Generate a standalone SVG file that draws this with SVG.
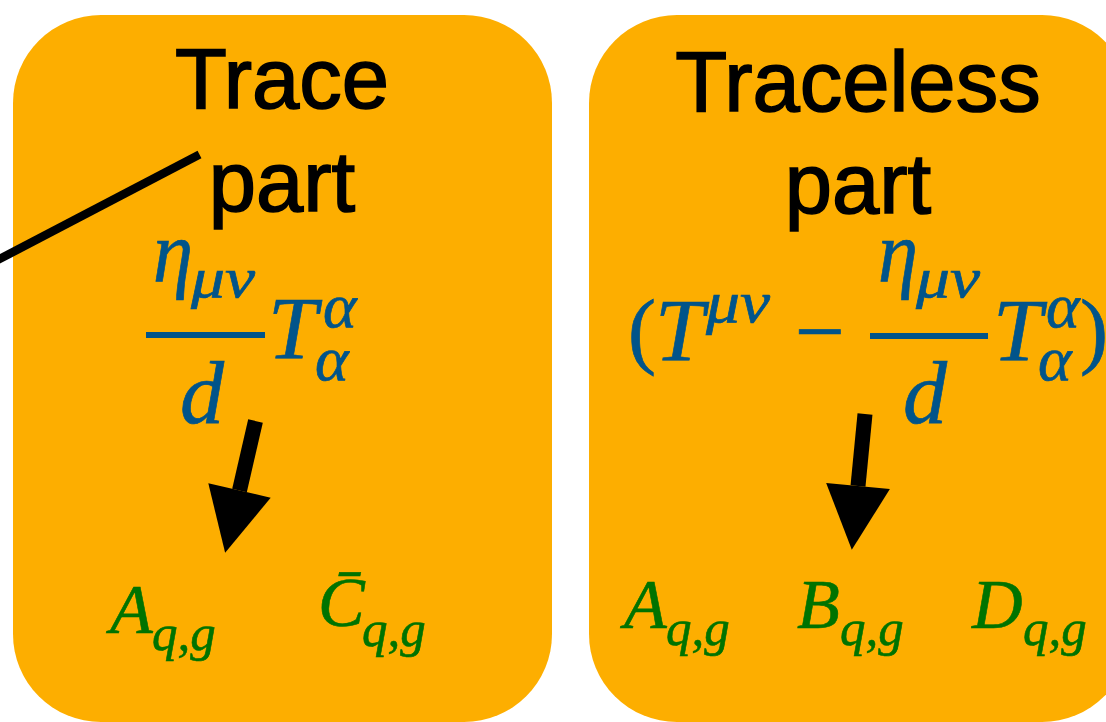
<svg xmlns="http://www.w3.org/2000/svg" width="1106" height="722" viewBox="0 0 1106 722">
<style>
.box{fill:#FDAE00}
.title{font-family:"Liberation Sans","Helvetica",Arial,sans-serif;font-size:85px;fill:#000;stroke:#000;stroke-width:1.6px;text-anchor:middle}
.m{font-family:"Liberation Serif","Times New Roman",serif;font-style:italic;fill:#01548A;stroke:#01548A;stroke-width:0.7px}
.mu{font-family:"Liberation Serif","Times New Roman",serif;font-style:normal;fill:#01548A;stroke:#01548A;stroke-width:0.7px}
.g{font-family:"Liberation Serif","Times New Roman",serif;font-style:italic;fill:#007300;stroke:#007300;stroke-width:0.6px}
.bar{fill:#01548A}
.conn{stroke:#000;fill:none}
</style>
<defs>
<marker id="head" markerUnits="userSpaceOnUse" markerWidth="64" markerHeight="64" refX="0" refY="32" orient="auto" overflow="visible">
<path d="M0,0 L64,32 L0,64 Z" fill="#000"/>
</marker>
</defs>
<rect width="1106" height="722" fill="#fff"/>
<g id="trace-part">
<rect class="box" x="13" y="15" width="539" height="707" rx="88" ry="88"/>
<text class="title" x="282" y="108">Trace</text>
<text class="title" x="282" y="211">part</text>
<text class="m" x="153" y="281" font-size="86" textLength="40" lengthAdjust="spacingAndGlyphs">η</text>
<text class="m" x="191" y="297" font-size="58" textLength="64" lengthAdjust="spacingAndGlyphs">μν</text>
<rect class="bar" x="146" y="332" width="119" height="6"/>
<text class="m" x="180" y="423" font-size="88">d</text>
<text class="m" x="268" y="358" font-size="88">T</text>
<text class="m" x="323" y="327" font-size="64">α</text>
<text class="m" x="315" y="380" font-size="64">α</text>
<text class="g" x="110" y="633" font-size="70">A</text>
<text class="g" x="152" y="650" font-size="51">q,g</text>
<text class="g" x="318" y="626" font-size="70">C̄</text>
<text class="g" x="362" y="646" font-size="51">q,g</text>
</g>
<g id="traceless-part">
<rect class="box" x="589" y="15" width="541" height="707" rx="88" ry="88"/>
<text class="title" x="858" y="111">Traceless</text>
<text class="title" x="858" y="213">part</text>
<text class="mu" x="628" y="358" font-size="84">(</text>
<text class="m" x="655" y="360" font-size="88">T</text>
<text class="m" x="706" y="322" font-size="60" textLength="64" lengthAdjust="spacingAndGlyphs">μν</text>
<text class="mu" x="795" y="361" font-size="88" stroke-width="2.5" textLength="50" lengthAdjust="spacingAndGlyphs">−</text>
<rect class="bar" x="870" y="333" width="118" height="6"/>
<text class="m" x="878" y="281" font-size="86" textLength="40" lengthAdjust="spacingAndGlyphs">η</text>
<text class="m" x="916" y="297" font-size="58" textLength="64" lengthAdjust="spacingAndGlyphs">μν</text>
<text class="m" x="903" y="423" font-size="88">d</text>
<text class="m" x="993" y="360" font-size="88">T</text>
<text class="m" x="1046" y="327" font-size="64">α</text>
<text class="m" x="1038" y="380" font-size="64">α</text>
<text class="mu" x="1080" y="358" font-size="84">)</text>
<text class="g" x="624" y="628" font-size="70">A</text>
<text class="g" x="666" y="645" font-size="51">q,g</text>
<text class="g" x="797" y="628" font-size="70">B</text>
<text class="g" x="840" y="645" font-size="51">q,g</text>
<text class="g" x="972" y="628" font-size="70">D</text>
<text class="g" x="1023" y="645" font-size="51">q,g</text>
</g>
<g id="connectors">
<line class="conn" x1="-10" y1="264" x2="199.5" y2="154.5" stroke-width="8.5"/>
<line class="conn" x1="255.5" y1="421" x2="239.5" y2="490.5" stroke-width="15" marker-end="url(#head)"/>
<line class="conn" x1="865" y1="414" x2="858" y2="486" stroke-width="15" marker-end="url(#head)"/>
</g>
</svg>
